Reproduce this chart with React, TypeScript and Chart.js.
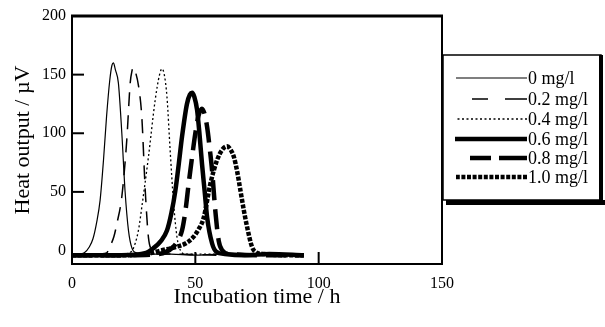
import React, { useEffect, useRef } from "react";
import { Chart, registerables } from "chart.js";

Chart.register(...registerables);

const seriesLabels = ["0 mg/l", "0.2 mg/l", "0.4 mg/l", "0.6 mg/l", "0.8 mg/l", "1.0 mg/l"];

const t0 = [0, 3, 5, 7, 8.5, 10, 11.4, 12.8, 14, 15.3, 16.2, 16.8, 17.6, 18.8, 20.2, 21.5, 22.9, 24.3, 26, 30, 40, 50, 60, 70, 80, 94];
const v0 = [-3, -3, -2, 3, 10, 24, 43, 78, 114, 145, 158, 160, 154, 143, 100, 51, 17, 2, -2, -3, -3, -4, -3, -3, -4, -3];

const t1 = [0, 10, 14, 15.5, 17, 18.2, 20.2, 22.2, 23.6, 24.3, 24.9, 25.6, 27, 28.3, 29.7, 31, 32.5, 34, 40, 60, 80, 94];
const v1 = [-3, -3, -2, 4, 12, 23, 46, 94, 143, 153, 156, 153, 140, 114, 51, 11, 0, -3, -3, -4, -3, -3];

const t2 = [0, 20, 24, 25.6, 27, 28.3, 31, 33.7, 35.5, 36.5, 37.5, 38.5, 39.8, 41.2, 42.6, 44, 46, 60, 80, 94];
const v2 = [-3, -3, -1, 6, 18, 37, 80, 128, 150, 155, 149, 131, 85, 40, 11, 0, -3, -3, -4, -3];

const t3 = [0, 20, 30, 33, 36, 38.5, 40.3, 41.9, 43.3, 44.6, 46.6, 47.8, 48.7, 49.6, 50.7, 51.7, 52.7, 53.8, 54.8, 56.8, 58.5, 62, 70, 80, 94];
const v3 = [-4, -4, -2, 2, 8, 17, 32, 51, 74, 97, 125, 133, 134.5, 131, 120, 99, 74, 50, 28, 6, -1, -3, -4, -3, -4];

const t4 = [0, 20, 35, 41, 43, 44.6, 46, 47.3, 48.7, 50, 51.3, 52.7, 53.8, 54.8, 56, 56.8, 58.1, 59.5, 61, 64, 80, 94];
const v4 = [-4, -4, -3, 3, 9, 17, 34, 57, 80, 100, 115, 121, 116, 105, 84, 68, 34, 8, 0, -3, -4, -4];

const t5 = [0, 20, 30, 36, 42, 46, 49, 51.3, 53.4, 56.1, 58.8, 60.9, 62.9, 64.3, 65.6, 67, 68.3, 69.6, 71, 73, 75, 78, 85, 94];
const v5 = [-4, -4, -3, 0, 3, 6, 11, 18, 28, 57, 77, 86, 89, 86, 80, 67, 51, 35, 20, 3, -2, -3, -4, -4];

const xTicks = [0, 50, 100, 150];
const yTicks = [0, 50, 100, 150, 200];

const times = [t0, t1, t2, t3, t4, t5];
const values = [v0, v1, v2, v3, v4, v5];
const widths = [1.2, 1.5, 1.3, 4.5, 4.5, 4.5];
const dashes: number[][] = [[], [14, 9], [2, 2.5], [], [20, 9], [4, 1.6]];
const legendDashes: number[][] = [[], [22, 17], [2, 2.5], [], [28, 8], [4, 1.6]];
const legendStart = [456, 472, 456, 455, 470, 456];

const SERIF = "'Liberation Serif', 'Times New Roman', serif";

const framePlugin = {
  id: "framePlugin",
  afterDraw(chart: any) {
    const { ctx, chartArea } = chart;
    const { left, right, top, bottom } = chartArea;
    const xs = chart.scales.x;
    const ys = chart.scales.y;
    ctx.save();
    ctx.strokeStyle = "#000";
    ctx.lineCap = "butt";
    ctx.lineWidth = 2;
    ctx.beginPath();
    ctx.moveTo(left, top);
    ctx.lineTo(left, bottom);
    ctx.lineTo(right, bottom);
    ctx.lineTo(right, top);
    ctx.stroke();
    ctx.lineWidth = 3;
    ctx.beginPath();
    ctx.moveTo(left - 1, top);
    ctx.lineTo(right + 1, top);
    ctx.stroke();
    ctx.lineWidth = 2;
    [50, 100, 150].forEach((v) => {
      const y = ys.getPixelForValue(v);
      ctx.beginPath();
      ctx.moveTo(left, y);
      ctx.lineTo(left + 12, y);
      ctx.stroke();
    });
    [50, 100].forEach((v) => {
      const x = xs.getPixelForValue(v);
      ctx.beginPath();
      ctx.moveTo(x, bottom);
      ctx.lineTo(x, bottom - 12);
      ctx.stroke();
    });

    const bx = right + 1;
    const by = 55;
    const bw = 601 - bx;
    const bh = 145;
    ctx.fillStyle = "#fff";
    ctx.fillRect(bx, by, bw, bh);
    ctx.fillStyle = "#000";
    ctx.fillRect(bx + 3, by + bh, 605 - bx - 3, 5);
    ctx.fillRect(599, by, 4, bh + 5);
    ctx.lineWidth = 1.5;
    ctx.strokeRect(bx, by, bw, bh);

    const rowY = [78, 99, 119, 139, 158, 177];
    ctx.font = `18px ${SERIF}`;
    ctx.textBaseline = "middle";
    ctx.textAlign = "left";
    seriesLabels.forEach((lab, i) => {
      const y = rowY[i];
      ctx.beginPath();
      ctx.setLineDash(legendDashes[i]);
      ctx.lineWidth = widths[i];
      ctx.moveTo(527, y);
      ctx.lineTo(legendStart[i], y);
      ctx.stroke();
      ctx.setLineDash([]);
      ctx.fillStyle = "#000";
      ctx.fillText(lab, 528, y + 1);
    });
    ctx.restore();
  },
};

export default function App() {
  const ref = useRef<HTMLCanvasElement | null>(null);
  useEffect(() => {
    document.body.style.margin = "0";
    const canvas = ref.current!;
    const chart = new Chart(canvas, {
      type: "line",
      data: {
        datasets: seriesLabels.map((lab, i) => ({
          label: lab,
          data: times[i].map((t, j) => ({ x: t, y: values[i][j] })),
          borderColor: "#000",
          borderWidth: widths[i],
          borderDash: dashes[i],
          pointRadius: 0,
          fill: false,
          cubicInterpolationMode: "monotone" as const,
          borderJoinStyle: "round" as const,
        })),
      },
      options: {
        animation: false,
        responsive: false,
        layout: { padding: { top: 16, right: 163, left: 0, bottom: 0 } },
        plugins: { legend: { display: false }, tooltip: { enabled: false } },
        scales: {
          x: {
            type: "linear",
            min: 0,
            max: 150,
            afterBuildTicks: (s: any) => {
              s.ticks = xTicks.map((v) => ({ value: v }));
            },
            afterFit: (s: any) => {
              s.height = 63;
            },
            grid: { display: false, drawTicks: false },
            border: { display: false },
            ticks: {
              color: "#000",
              padding: 10,
              maxRotation: 0,
              font: { family: SERIF, size: 16 },
            },
            title: {
              display: true,
              text: "Incubation time / h",
              color: "#000",
              font: { family: SERIF, size: 22 },
              padding: { top: 0, bottom: 17 },
            },
          },
          y: {
            type: "linear",
            min: -11.5,
            max: 200,
            afterBuildTicks: (s: any) => {
              s.ticks = yTicks.map((v) => ({ value: v }));
            },
            afterFit: (s: any) => {
              s.width = 72;
            },
            grid: { display: false, drawTicks: false },
            border: { display: false },
            ticks: {
              color: "#000",
              padding: 6,
              font: { family: SERIF, size: 16 },
            },
            title: {
              display: true,
              text: "Heat output / µV",
              color: "#000",
              font: { family: SERIF, size: 22 },
              padding: { top: 10, bottom: 0 },
            },
          },
        },
      },
      plugins: [framePlugin],
    });
    return () => chart.destroy();
  }, []);
  return <canvas ref={ref} width={605} height={327} style={{ display: "block" }} />;
}
